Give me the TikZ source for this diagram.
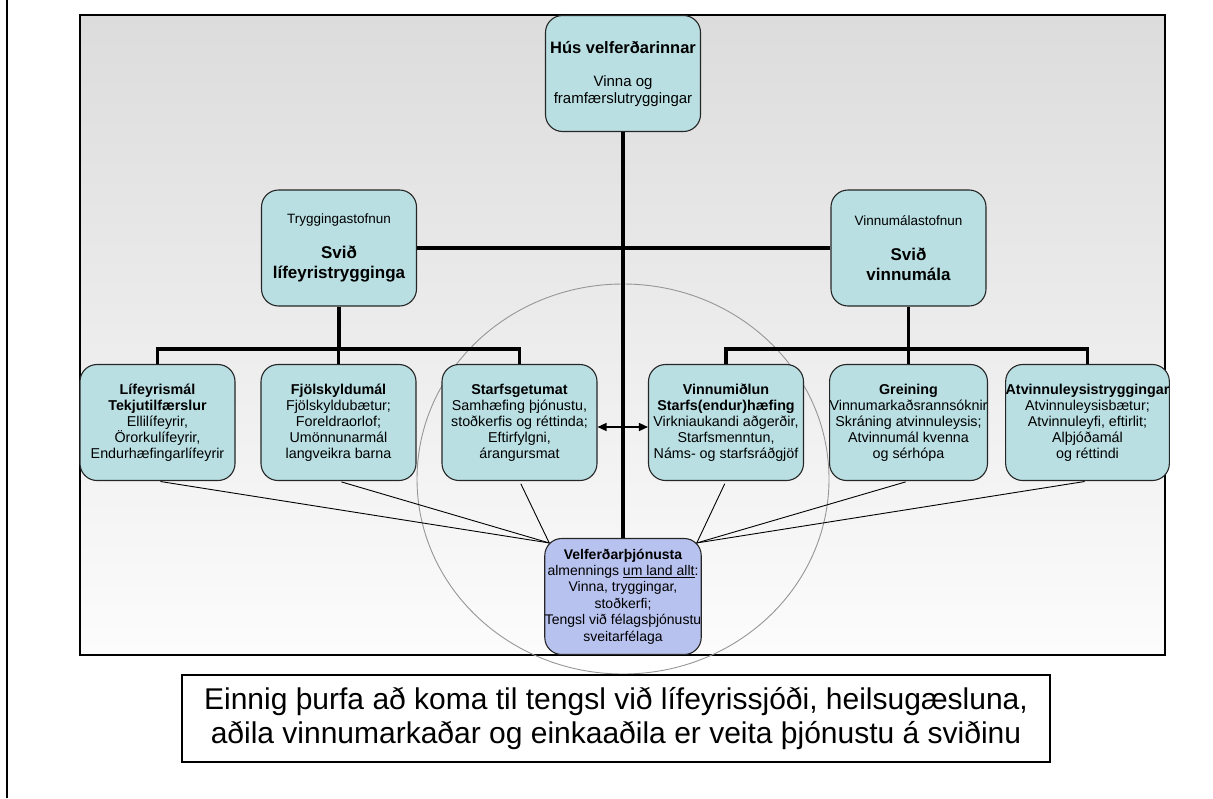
\documentclass[tikz,border=0pt]{standalone}
\usepackage{fontspec}
\setmainfont{Liberation Sans}
\usetikzlibrary{arrows.meta}
\definecolor{boxcyan}{RGB}{185,223,227}
\definecolor{boxblue}{RGB}{184,194,239}
\definecolor{ringgray}{RGB}{150,150,150}
\definecolor{paneltop}{RGB}{220,220,220}
\definecolor{panelbot}{RGB}{252,252,252}

\begin{document}
\begin{tikzpicture}[x=1pt,y=-1pt,
        box/.style={draw=black!85,line width=1.1pt,rounded corners=17pt,fill=boxcyan,
            minimum width=155pt,minimum height=116pt,inner sep=0pt,align=center,
            font=\fontsize{14.3}{16}\selectfont},
        trunk/.style={line width=3.5pt},
        spoke/.style={line width=0.9pt,shorten <=3pt}]
        \useasboundingbox (0,0) rectangle (1213,798);
        \def\by{422.5} % row of the lower boxes
        \def\mx{623} % main axis

        % Left margin rule
        \draw[line width=2.5pt] (7,0) -- (7,798);

        % Background panel
        \draw[line width=1.2pt,top color=paneltop,bottom color=panelbot] (80,15) rectangle (1165,655);

        % Ring
        \draw[ringgray,line width=0.9pt] (\mx,479) ellipse (206 and 195);

        % Top
        \node[box,font=\fontsize{15}{17}\selectfont] (hus) at (\mx,73.5)
            {{\fontsize{16.5}{17}\selectfont\bfseries Hús velferðarinnar}\\[16pt]Vinna og\\framfærslutryggingar};

        % Middle level
        \node[box,font=\fontsize{17}{20}\selectfont\bfseries] (tryg) at (339,248)
            {{\fontsize{13.5}{16}\selectfont\mdseries Tryggingastofnun}\\[15pt]Svið\\lífeyristrygginga};
        \node[box,font=\fontsize{17}{20}\selectfont\bfseries] (vinn) at (908.5,248)
            {{\fontsize{13.5}{16}\selectfont\mdseries Vinnumálastofnun}\\[15pt]Svið\\vinnumála};

        % Lower level
        \node[box] (lif) at (157.5,\by)
            {\textbf{Lífeyrismál}\\\textbf{Tekjutilfærslur}\\Ellilífeyrir,\\Örorkulífeyrir,\\Endurhæfingarlífeyrir};
        \node[box] (fjol) at (338.5,\by)
            {\textbf{Fjölskyldumál}\\Fjölskyldubætur;\\Foreldraorlof;\\Umönnunarmál\\langveikra barna};
        \node[box] (starf) at (519.5,\by)
            {\textbf{Starfsgetumat}\\Samhæfing þjónustu,\\stoðkerfis og réttinda;\\Eftirfylgni,\\árangursmat};
        \node[box] (vmid) at (726,\by)
            {\textbf{Vinnumiðlun}\\\textbf{Starfs(endur)hæfing}\\Virkniaukandi aðgerðir,\\Starfsmenntun,\\Náms- og starfsráðgjöf};
        \node[box] (grein) at (908.5,\by)
            {\textbf{Greining}\\Vinnumarkaðsrannsóknir\\Skráning atvinnuleysis;\\Atvinnumál kvenna\\og sérhópa};
        \node[box] (atv) at (1087.5,\by)
            {\textbf{Atvinnuleysistryggingar}\\Atvinnuleysisbætur;\\Atvinnuleyfi, eftirlit;\\Alþjóðamál\\og réttindi};

        % Service desk
        \node[box,fill=boxblue,font=\fontsize{14}{16.4}\selectfont] (velf) at (\mx,596.5)
            {\textbf{Velferðarþjónusta}\\almennings \underline{um land allt}:\\Vinna, tryggingar,\\stoðkerfi;\\Tengsl við félagsþjónustu\\sveitarfélaga};

        % Tree
        \coordinate (lbar) at (339,349);
        \coordinate (rbar) at (908.5,349);
        \draw[trunk] (hus.south) -- (velf.north);
        \draw[trunk] (tryg.east) -- (vinn.west);
        \draw[trunk] (tryg.south) -- (lbar);
        \draw[trunk] (vinn.south) -- (rbar);
        \foreach \n in {lif,fjol,starf} \draw[trunk] (\n.north) |- (lbar);
        \foreach \n in {vmid,grein,atv} \draw[trunk] (\n.north) |- (rbar);

        % Two-way link
        \draw[{Triangle[length=9pt,width=8pt]}-{Triangle[length=9pt,width=8pt]},line width=1.5pt]
            ([yshift=-4.5pt]starf.east) -- ([yshift=-4.5pt]vmid.west);

        % Spokes to the service desk
        \coordinate (vnw) at ([xshift=5pt,yshift=-5pt]velf.north west);
        \coordinate (vne) at ([xshift=-5pt,yshift=-5pt]velf.north east);
        \foreach \n in {lif,fjol,starf} \draw[spoke] (\n.south) -- (vnw);
        \foreach \n in {vmid,grein,atv} \draw[spoke] (\n.south) -- (vne);

        % Note
        \node[draw,line width=1.3pt,fill=white,minimum width=868pt,minimum height=87pt,inner sep=0pt,
            align=center,font=\fontsize{30}{34}\selectfont] (note) at (616,718.5)
            {Einnig þurfa að koma til tengsl við lífeyrissjóði, heilsugæsluna,\\aðila vinnumarkaðar og einkaaðila er veita þjónustu á sviðinu};
    \end{tikzpicture}
\end{document}
